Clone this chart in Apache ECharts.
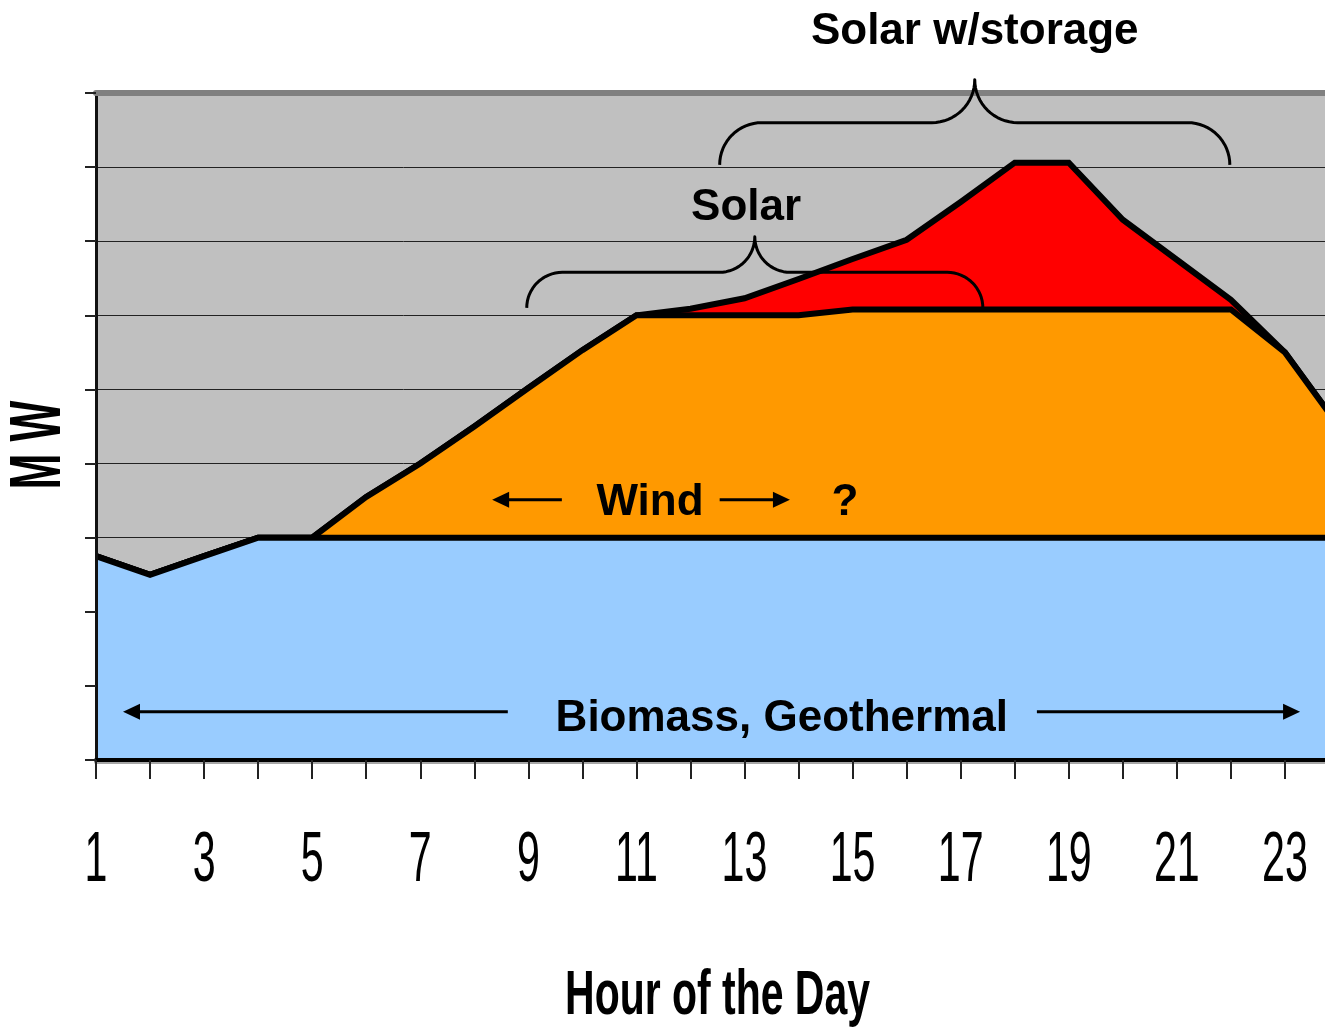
<!DOCTYPE html>
<html>
<head>
<meta charset="utf-8">
<script src="https://cdn.jsdelivr.net/npm/echarts@6/dist/echarts.min.js"></script>
<style>
html,body{margin:0;padding:0;background:#fff;}
#c{width:1325px;height:1033px;}
</style>
</head>
<body>
<div id="c"></div>
<script>
// ---- data ----
const hours = [1,2,3,4,5,6,7,8,9,10,11,12,13,14,15,16,17,18,19,20,21,22,23,24];
// cumulative levels (MW, arbitrary units) of each layer's top edge
const biomassMW  = [2.75,2.5,2.75,3,3,3,3,3,3,3,3,3,3,3,3,3,3,3,3,3,3,3,3,3];
const windTopMW  = [2.75,2.5,2.75,3,3,3.55,4,4.5,5.02,5.53,6,6,6,6,6.08,6.08,6.08,6.08,6.08,6.08,6.08,6.08,5.5,4.5];
const solarTopMW = [2.75,2.5,2.75,3,3,3.55,4,4.5,5.02,5.53,6,6.09,6.23,6.49,6.76,7.02,7.53,8.06,8.06,7.29,6.75,6.21,5.5,4.5];
const tickHours  = [1,3,5,7,9,11,13,15,17,19,21,23];
const seriesNames = ['Solar w/storage','Wind','Biomass, Geothermal'];

const FONT = "'Liberation Sans', Arial, sans-serif";
const chart = echarts.init(document.getElementById('c'), null, {renderer:'canvas'});

function areaSeries(name, vals, color, z){
  return {
    name: name, type:'line', z: z, silent:true, animation:false,
    data: hours.map((h,i)=>[h, vals[i]]),
    symbol:'none', clip:true,
    lineStyle:{color:'#000', width:6, join:'miter', miterLimit:10},
    areaStyle:{color:color, opacity:1, origin:'start'}
  };
}

chart.setOption({
  animation:false,
  backgroundColor:'#ffffff',
  grid:{left:96, right:-14, top:93, bottom:273, show:true, backgroundColor:'#C0C0C0', borderWidth:0, containLabel:false, outerBoundsMode:'none'},
  xAxis:[
    {type:'value', min:1, max:24, interval:1, position:'bottom', z:10,
     axisLine:{show:true, onZero:false, lineStyle:{color:'#000', width:4, shadowColor:'rgba(0,0,0,0.35)', shadowOffsetY:2}},
     axisTick:{show:true, length:19, lineStyle:{color:'#222', width:2}},
     axisLabel:{show:false}, splitLine:{show:false}},
    {type:'value', min:1, max:24, interval:1, position:'top', z:10,
     axisLine:{show:true, onZero:false, lineStyle:{color:'#808080', width:6}},
     axisTick:{show:false}, axisLabel:{show:false}, splitLine:{show:false}}
  ],
  yAxis:[
    {type:'value', min:0, max:9, interval:1, z:0,
     axisLine:{show:false}, axisTick:{show:false}, axisLabel:{show:false},
     splitLine:{show:true, lineStyle:{color:'#222', width:1}}},
    {type:'value', min:0, max:9, interval:1, position:'left', offset:0, z:10,
     axisLine:{show:true, onZero:false, lineStyle:{color:'#111', width:3}},
     axisTick:{show:true, length:11, lineStyle:{color:'#222', width:2}},
     axisLabel:{show:false}, splitLine:{show:false}}
  ],
  series:[
    areaSeries(seriesNames[0], solarTopMW, '#FF0000', 2),
    areaSeries(seriesNames[1], windTopMW, '#FF9900', 3),
    areaSeries(seriesNames[2], biomassMW, '#99CCFF', 4)
  ]
});

// ---- annotations, anchored in data coordinates (hour, MW) ----
const annotTexts = [
  {text:'Solar w/storage', at:[17.26, 9.82]},
  {text:'Solar', at:[13.03, 7.45]},
  {text:'Wind', at:[11.25, 3.47]},
  {text:'?', at:[14.86, 3.47]},
  {text:'Biomass, Geothermal', at:[13.69, 0.55]}
];
const arrows = [
  {from:[9.62,3.51], to:[8.33,3.51]},
  {from:[12.54,3.51], to:[13.84,3.51]},
  {from:[8.62,0.65], to:[1.50,0.65]},
  {from:[18.41,0.65], to:[23.28,0.65]}
];
const braces = [
  {x1:8.97, x2:17.41, xTip:13.19, yEnd:6.10, yArm:6.58, yTip:7.06},
  {x1:12.54, x2:21.98, xTip:17.26, yEnd:8.03, yArm:8.60, yTip:9.18}
];

const P = (h, v) => chart.convertToPixel({xAxisIndex:0, yAxisIndex:0}, [h, v]);
const els = [];

annotTexts.forEach(t => {
  const p = P(t.at[0], t.at[1]);
  els.push({type:'text', x:p[0], y:p[1], silent:true, z:100,
    style:{text:t.text, fontSize:44, fontWeight:'bold', fontFamily:FONT, fill:'#000', align:'center', verticalAlign:'middle'}});
});

arrows.forEach(a => {
  const f = P(a.from[0], a.from[1]), t = P(a.to[0], a.to[1]);
  const dir = Math.sign(t[0]-f[0]);
  const headLen = 17, headHalf = 8;
  els.push({type:'polyline', silent:true, z:100, shape:{points:[f,[t[0]-dir*headLen+dir*2, t[1]]]}, style:{stroke:'#000', lineWidth:3, fill:null}});
  els.push({type:'polygon', silent:true, z:100, shape:{points:[[t[0],t[1]],[t[0]-dir*headLen,t[1]-headHalf],[t[0]-dir*headLen,t[1]+headHalf]]}, style:{fill:'#000'}});
});

function arcPts(cx, cy, r, a0, a1, n){
  const pts = [];
  for (let i=0;i<=n;i++){ const a = a0 + (a1-a0)*i/n; pts.push([cx + r*Math.cos(a), cy + r*Math.sin(a)]); }
  return pts;
}
braces.forEach(b => {
  const L = P(b.x1, b.yEnd), R = P(b.x2, b.yEnd), T = P(b.xTip, b.yTip), A = P(b.xTip, b.yArm);
  const yE = L[1], yA = A[1], yT = T[1];
  const r = yE - yA, r2 = yA - yT;
  const xL = L[0], xR = R[0], xT = T[0];
  let pts = [];
  pts = pts.concat(arcPts(xL + r, yE, r, Math.PI, 1.5*Math.PI, 16));
  pts = pts.concat(arcPts(xT - r2, yT, r2, 0.5*Math.PI, 0, 16));
  pts = pts.concat(arcPts(xT + r2, yT, r2, Math.PI, 0.5*Math.PI, 16));
  pts = pts.concat(arcPts(xR - r, yE, r, -0.5*Math.PI, 0, 16));
  els.push({type:'polyline', silent:true, z:100, shape:{points:pts}, style:{stroke:'#000', lineWidth:3, fill:null, lineJoin:'round'}});
});

// condensed tick labels and axis names
const axisBottom = P(1, 0)[1];
tickHours.forEach(h => {
  const p = P(h, 0);
  els.push({type:'text', x:p[0], y:axisBottom + 101, scaleX:0.58, silent:true, z:100,
    style:{text:String(h), fontSize:71, fontFamily:FONT, fill:'#000', align:'center', verticalAlign:'middle'}});
});
const gridLeft = P(1,0)[0], gridRight = P(24,0)[0];
els.push({type:'text', x:(gridLeft+gridRight)/2, y:axisBottom + 237, scaleX:0.65, silent:true, z:100,
  style:{text:'Hour of the Day', fontSize:63, fontWeight:'bold', fontFamily:FONT, fill:'#000', align:'center', verticalAlign:'middle'}});
const yMid = P(1, 4.25)[1];
els.push({type:'text', x:40, y:yMid, rotation:Math.PI/2, scaleX:0.6, silent:true, z:100,
  style:{text:'M W', fontSize:72, fontWeight:'bold', fontFamily:FONT, fill:'#000', align:'center', verticalAlign:'middle'}});

chart.setOption({graphic:{elements:els}});
</script>
</body>
</html>
